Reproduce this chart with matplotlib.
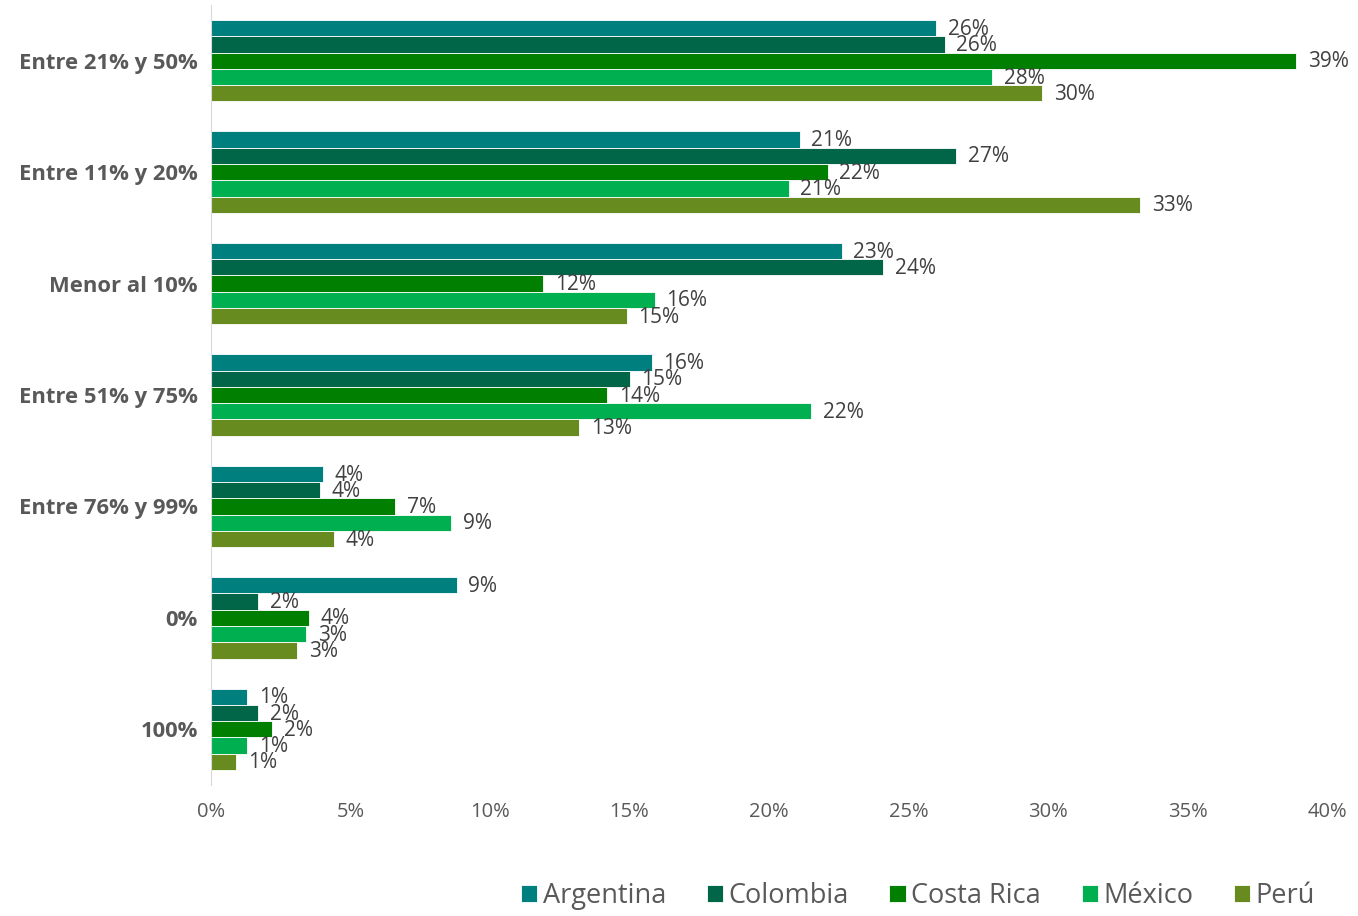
import matplotlib.pyplot as plt
import numpy as np

plt.rcParams['font.family'] = ['Open Sans', 'DejaVu Sans']

categories = ['Entre 21% y 50%', 'Entre 11% y 20%', 'Menor al 10%', 'Entre 51% y 75%',
              'Entre 76% y 99%', '0%', '100%']
countries = ['Argentina', 'Colombia', 'Costa Rica', 'México', 'Perú']
colors = ['#007F7F', '#006647', '#007F00', '#00AF50', '#678B1E']

# values in percent, one list per country (same order as categories)
argentina = [26.0, 21.1, 22.6, 15.8, 4.0, 8.8, 1.3]
colombia = [26.3, 26.7, 24.1, 15.0, 3.9, 1.7, 1.7]
costa_rica = [38.9, 22.1, 11.9, 14.2, 6.6, 3.5, 2.2]
mexico = [28.0, 20.7, 15.9, 21.5, 8.6, 3.4, 1.3]
peru = [29.8, 33.3, 14.9, 13.2, 4.4, 3.1, 0.9]
series = [argentina, colombia, costa_rica, mexico, peru]

fig = plt.figure(figsize=(13.58, 9.16), dpi=100)
ax = fig.add_axes([211 / 1358, 1 - 785 / 916, (1327 - 211) / 1358, 780 / 916])

y = np.arange(len(categories))
h = 0.146
for i, (name, vals, c) in enumerate(zip(countries, series, colors)):
    pos = y - 2 * h + i * h
    ax.barh(pos, vals, height=h, color=c, edgecolor='white', linewidth=0.6, label=name)
    for p, v in zip(pos, vals):
        ax.text(v + 0.42, p + 0.01, f'{round(v):.0f}%', va='center', ha='left',
                fontsize=15, color='#404040')

ax.set_ylim(len(categories) - 0.5, -0.5)
ax.set_xlim(0, 40)
ax.set_yticks(y)
ax.set_yticklabels(categories, fontsize=15.8, fontweight='bold', color='#595959')
xt = np.arange(0, 41, 5)
ax.set_xticks(xt)
ax.set_xticklabels([f'{t}%' for t in xt], fontsize=14.5, color='#595959')
ax.tick_params(length=0)
ax.tick_params(axis='x', pad=12)
ax.tick_params(axis='y', pad=9.5)
for s in ['top', 'right', 'bottom']:
    ax.spines[s].set_visible(False)
ax.spines['left'].set_color('#D9D9D9')

fig.legend(loc='center', bbox_to_anchor=(918 / 1358, 1 - 896 / 916), ncol=5, frameon=False,
           fontsize=19.5, handlelength=0.6, handleheight=0.6, handletextpad=0.2,
           columnspacing=1.5, labelcolor='#595959')

fig.savefig('out.png', dpi=100)
